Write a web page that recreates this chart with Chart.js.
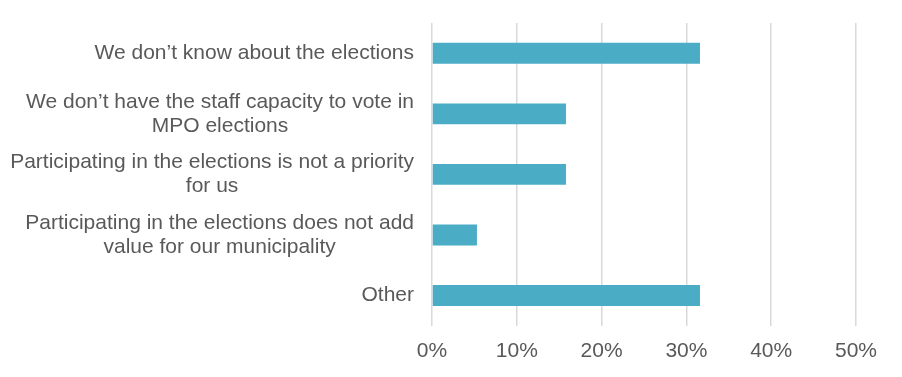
<!DOCTYPE html>
<html>
<head>
<meta charset="utf-8">
<script src="https://cdn.jsdelivr.net/npm/chart.js@4/dist/chart.umd.min.js"></script>
<style>
  html, body { margin: 0; padding: 0; background: #fff; }
  #wrap { width: 902px; height: 377px; }
</style>
</head>
<body>
<div id="wrap"><canvas id="chart" width="902" height="377"></canvas></div>
<script>
// reasons, each split into the lines shown on the axis
const categories = [
    ['We don\u2019t know about the elections'],
    ['We don\u2019t have the staff capacity to vote in', 'MPO elections'],
    ['Participating in the elections is not a priority', 'for us'],
    ['Participating in the elections does not add', 'value for our municipality'],
    ['Other']
];
const shares = [31.6, 15.8, 15.8, 5.3, 31.6];
const tickValues = [0, 10, 20, 30, 40, 50];

const textColor = '#595959';
const fontFamily = '"Liberation Sans", Arial, sans-serif';

// Excel-style category labels: block right aligned, lines centred within it
const categoryLabels = {
    id: 'categoryLabels',
    afterDraw(chart) {
        const ctx = chart.ctx;
        const y = chart.scales.y;
        const right = chart.chartArea.left - 18;
        const lineH = 24;
        ctx.save();
        ctx.font = '21px ' + fontFamily;
        ctx.fillStyle = textColor;
        ctx.textAlign = 'center';
        ctx.textBaseline = 'middle';
        categories.forEach((lines, i) => {
            const widest = Math.max(...lines.map(l => ctx.measureText(l).width));
            const cx = right - widest / 2;
            const cy = y.getPixelForValue(i);
            const top = cy - (lines.length - 1) * lineH / 2;
            lines.forEach((l, j) => ctx.fillText(l, cx, top + j * lineH));
        });
        ctx.restore();
    }
};

new Chart(document.getElementById('chart'), {
    type: 'bar',
    data: {
        labels: categories,
        datasets: [{
            data: shares,
            backgroundColor: '#4BACC6',
            categoryPercentage: 1,
            barPercentage: 0.345
        }]
    },
    options: {
        indexAxis: 'y',
        responsive: false,
        animation: false,
        layout: { padding: { left: 432, right: 46, top: 23, bottom: 0 } },
        plugins: {
            legend: { display: false },
            tooltip: { enabled: false }
        },
        scales: {
            y: { display: false },
            x: {
                min: 0,
                max: 50,
                afterBuildTicks: axis => { axis.ticks = tickValues.map(v => ({ value: v })); },
                grid: { color: '#d9d9d9', lineWidth: 1.5, drawTicks: false },
                border: { display: false },
                ticks: {
                    padding: 13,
                    color: textColor,
                    font: { family: fontFamily, size: 21 },
                    callback: v => v + '%'
                }
            }
        }
    },
    plugins: [categoryLabels]
});
</script>
</body>
</html>
